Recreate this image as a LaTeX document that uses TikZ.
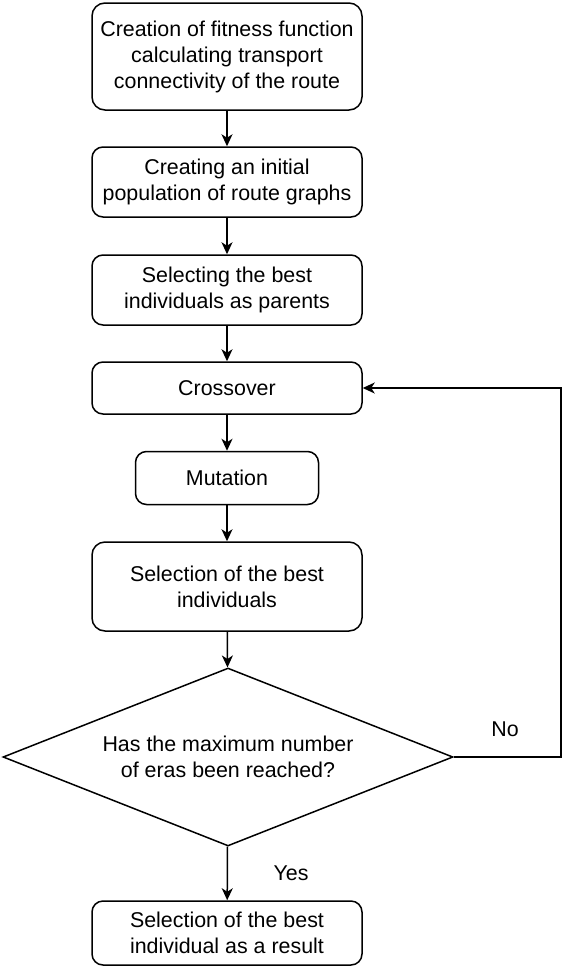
\documentclass[tikz,border=0pt]{standalone}
\usepackage{fontspec}
\setmainfont{Liberation Sans}
\usetikzlibrary{shapes.geometric,arrows.meta}
\begin{document}
\begin{tikzpicture}[x=1pt,y=-1pt,
  every node/.style={font=\fontsize{21.4}{26}\selectfont},
  box/.style={draw,line width=1.5pt,rounded corners=11pt,align=center,inner sep=0pt},
  dec/.style={draw,line width=1.5pt,shape=diamond,aspect=2.528,align=center,inner sep=0pt,minimum width=450pt,minimum height=178pt},
  arr/.style={line width=1.5pt,-{Stealth[length=12pt,width=11pt,inset=3.5pt]}},
  lbl/.style={inner sep=0pt}]
\useasboundingbox (0,0) rectangle (563,975);
\node[box,minimum width=270pt,minimum height=107pt,rounded corners=13pt] (n1) at (227,56.5) {Creation of fitness function\\calculating transport\\connectivity of the route};
\node[box,minimum width=270pt,minimum height=70pt] (n2) at (227,182) {Creating an initial\\population of route graphs};
\node[box,minimum width=270pt,minimum height=70pt] (n3) at (227,290) {Selecting the best\\individuals as parents};
\node[box,minimum width=270pt,minimum height=52pt] (n4) at (227,388) {Crossover};
\node[box,minimum width=183pt,minimum height=53pt] (n5) at (227,478) {Mutation};
\node[box,minimum width=270pt,minimum height=89pt,rounded corners=13pt] (n6) at (227,586.5) {Selection of the best\\individuals};
\node[dec] (d) at (228,757) {Has the maximum number\\of eras been reached?};
\node[box,minimum width=270pt,minimum height=64pt] (n7) at (227,933) {Selection of the best\\individual as a result};
\node[lbl] (no) at (505,729) {No};
\node[lbl] (yes) at (291,873) {Yes};
\coordinate (f1) at (561,757);
\coordinate (f2) at (561,388);
\draw[arr] (n1) -- (n2);
\draw[arr] (n2) -- (n3);
\draw[arr] (n3) -- (n4);
\draw[arr] (n4) -- (n5);
\draw[arr] (n5) -- (n6);
\draw[arr] (n6) -- (d);
\draw[arr] (d) -- (n7);
\draw[arr] (d.east) -- (f1) -- (f2) -- (n4.east);
\end{tikzpicture}
\end{document}
